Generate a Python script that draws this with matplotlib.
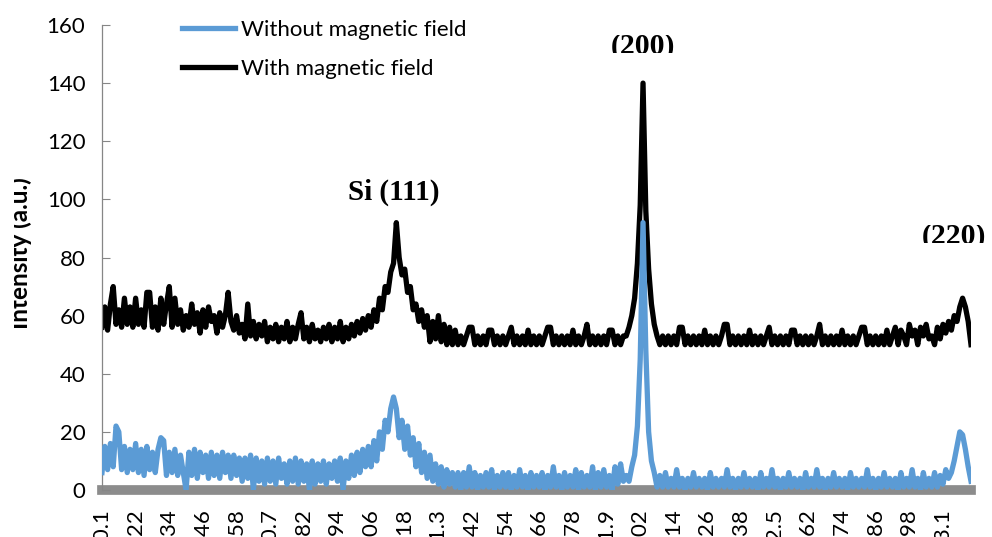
import matplotlib
matplotlib.use("Agg")
import matplotlib.pyplot as plt
from matplotlib.transforms import Bbox

# XRD scan, one point per 0.01 deg (category axis like the Excel original)
tick_labels = ["20.1", "20.22", "20.34", "20.46", "20.58", "20.7", "20.82", "20.94",
               "21.06", "21.18", "21.3", "21.42", "21.54", "21.66", "21.78", "21.9",
               "22.02", "22.14", "22.26", "22.38", "22.5", "22.62", "22.74", "22.86",
               "22.98", "23.1"]

# With magnetic field
with_field = [
    56, 63, 55, 64, 70, 57, 62, 56, 66, 57, 63, 56, 66, 57, 62, 56, 68, 68, 56, 63,
    55, 66, 57, 64, 70, 56, 66, 57, 62, 55, 60, 56, 64, 57, 61, 54, 62, 56, 63, 58,
    60, 54, 61, 56, 60, 68, 58, 55, 60, 54,
    57, 52, 64, 53, 58, 52, 57, 53, 58, 51, 56, 52, 57, 51, 56, 52, 58, 51, 56, 52,
    57, 61, 52, 56, 51, 57, 52, 55, 51, 56, 52, 57, 51, 56, 52, 58, 51, 56, 52, 57,
    53, 58, 54, 59, 55, 60,
    56, 62, 58, 66, 62, 70, 68, 75, 78, 92, 80, 74, 76, 68, 70, 62, 64, 58, 62, 56,
    60, 51, 58, 52, 60, 51, 57, 50, 56, 50, 55, 50, 53, 50, 53, 56, 56, 50, 53, 50,
    53, 50, 55, 55, 50, 53, 50, 53, 50, 53, 56, 50, 53, 50, 53, 50, 55, 50, 53, 50,
    53, 50, 53, 56, 56, 50, 53, 50, 53, 50, 53, 50, 55, 50, 53, 50, 53, 57, 50, 53,
    50, 53, 50, 53, 50, 55, 55, 50, 53, 50, 53,
    53, 56, 60, 66, 78, 98, 140, 96, 76, 64, 57, 53, 50, 53,
    50, 53, 50, 53, 50, 56, 56, 50, 53, 50, 53, 50, 53, 50, 55, 50, 53, 50, 53, 50,
    53, 57, 57, 50, 53, 50, 53, 50, 53, 50, 55, 50, 53, 50, 53, 50, 53, 56, 50, 53,
    50, 53, 50, 53, 50, 55, 55, 50, 53, 50, 53, 50, 53, 50, 53, 57, 50, 53, 50, 53,
    50, 53, 50, 55, 50, 53, 50, 53, 50, 53, 56, 56, 50, 53, 50, 53, 50, 53, 50, 55,
    50, 53, 56, 50, 55, 53, 50, 57, 53, 55, 50, 56, 53, 57, 52,
    53, 50, 56, 52, 57, 54, 58, 55, 60, 58, 63, 66, 63, 58, 50,
]

# Without magnetic field
without_field = [
    6, 15, 7, 16, 8, 22, 20, 7, 15, 6, 14, 7, 16, 6, 14, 5, 15, 7, 13, 6,
    14, 18, 17, 5, 13, 6, 14, 5, 12, 6, 0, 13, 5, 14, 4, 13, 6, 12, 4, 13,
    5, 12, 4, 13, 6, 12, 4, 12, 5, 11,
    3, 11, 4, 12, 0, 11, 3, 10, 2, 11, 3, 10, 2, 11, 4, 9, 2, 10, 3, 11,
    2, 10, 3, 9, 0, 10, 2, 9, 3, 10, 2, 9, 4, 10, 3, 11, 0, 10, 4, 12,
    5, 13, 6, 14, 8, 15,
    8, 17, 10, 20, 14, 24, 20, 28, 32, 28, 18, 24, 14, 22, 12, 18, 8, 16, 6, 13,
    4, 12, 3, 9, 2, 8, 1, 7, 2, 6, 1, 6, 0, 6, 1, 8, 1, 6, 0, 5,
    1, 6, 1, 7, 0, 5, 1, 6, 1, 6, 0, 5, 1, 7, 1, 5, 0, 6, 1, 5,
    1, 6, 0, 5, 1, 8, 1, 5, 0, 6, 1, 5, 1, 7, 0, 6, 1, 5, 1, 8,
    0, 6, 1, 7, 1, 5, 0, 8, 2, 9, 3,
    5, 3, 8, 12, 22, 45, 92, 48, 20, 10, 6, 1, 5, 1,
    6, 1, 4, 1, 7, 1, 4, 0, 4, 1, 6, 1, 4, 1, 4, 0, 6, 1, 4, 1,
    4, 1, 7, 1, 4, 0, 4, 1, 6, 1, 4, 1, 4, 0, 6, 1, 4, 1, 7, 1,
    4, 0, 4, 1, 6, 1, 4, 1, 4, 0, 6, 1, 4, 1, 7, 1, 4, 0, 4, 1,
    6, 1, 4, 1, 4, 0, 6, 1, 4, 1, 4, 1, 7, 1, 4, 0, 4, 1, 6, 1,
    4, 1, 4, 0, 6, 1, 4, 1, 7, 1, 4, 0, 6, 1, 4,
    1, 6, 1, 5, 2, 7, 4, 6, 10, 15, 20, 19, 14, 8, 3,
]

peak_labels = ["Si (111)", "(200)", "(220)"]
peak_index = [104, 193, 304]

FONT = ["Lato", "DejaVu Sans"]
plt.rcParams["font.family"] = FONT

fig = plt.figure(figsize=(9.92, 5.37), dpi=100)
W, H = 992, 537
ax = fig.add_axes([102 / W, 1 - 490 / H, (971 - 102) / W, (490 - 25) / H])

ax.plot(range(len(with_field)), with_field, color="black", lw=3.8,
        label="With magnetic field", zorder=2)
ax.plot(range(len(without_field)), without_field, color="#5B9BD5", lw=3.8,
        label="Without magnetic field", zorder=3)

ax.set_xlim(0, len(with_field) - 1)
ax.set_ylim(0, 160)
ax.set_yticks(range(0, 161, 20))
ax.set_xticks(range(0, 12 * len(tick_labels), 12))
ax.set_xticklabels(tick_labels, rotation=90)

for s in ["top", "right"]:
    ax.spines[s].set_visible(False)
ax.spines["left"].set_color("#868686")
ax.spines["left"].set_linewidth(0.9)
ax.spines["bottom"].set_color("#8C8C8C")
ax.spines["bottom"].set_linewidth(7)
ax.spines["bottom"].set_zorder(1)
ax.tick_params(axis="y", direction="in", length=6, color="#868686",
               labelsize=16, pad=12)
ax.tick_params(axis="x", length=0, labelsize=16, pad=14)

# legend, top left without frame, blue entry first
h, l = ax.get_legend_handles_labels()
ax.legend(h[::-1], l[::-1], loc="upper left", frameon=False, fontsize=16,
          bbox_to_anchor=(182 / W, 1 - 20 / H), bbox_transform=fig.transFigure,
          borderaxespad=0, borderpad=0, handlelength=2.4, handletextpad=0.25,
          labelspacing=0.85)

# y label, cut at the left like the original
yl = fig.text(32 / W, 1 - 253 / H, "Intensity (a.u.)", rotation=90, fontsize=17.5,
              fontweight="bold", ha="right", va="center")
yl.set_clip_box(Bbox.from_extents(14, 0, W, H))
yl.set_clip_on(True)

# peak labels
serif = "Liberation Serif"
ax.text(peak_index[0], 99.8, peak_labels[0], family=serif, fontweight="bold",
        fontsize=21, ha="center", va="baseline")
t2 = ax.text(peak_index[1], 150.0, peak_labels[1], family=serif, fontweight="bold",
             fontsize=21.5, ha="center", va="baseline", clip_on=True)
t2.set_clip_box(Bbox.from_extents(580, H - 53, 710, H - 35))
t3 = ax.text(peak_index[2], 84.7, peak_labels[2], family=serif, fontweight="bold",
             fontsize=21.5, ha="center", va="baseline", clip_on=True)
t3.set_clip_box(Bbox.from_extents(880, H - 243, W, H - 225))

fig.savefig("out.png", dpi=100)
